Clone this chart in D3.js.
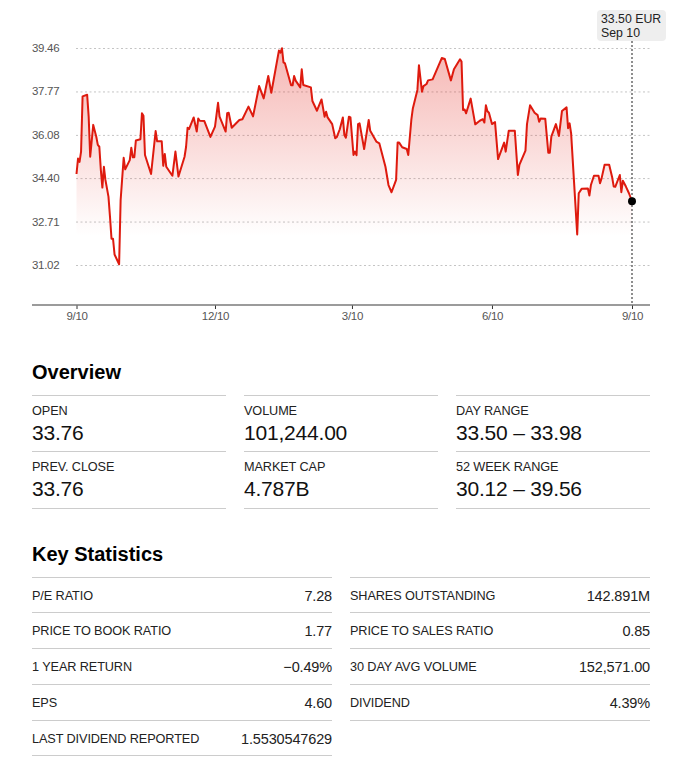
<!DOCTYPE html>
<html><head><meta charset="utf-8">
<script src="https://cdn.jsdelivr.net/npm/d3@7/dist/d3.min.js"></script>
<style>
html,body{margin:0;padding:0;background:#fff}
svg{display:block}
text{font-family:"Liberation Sans",Arial,sans-serif}
</style></head><body><div id="chart"></div>
<script>
const startDate = "2022-09-10";
const dayOffsets = [0,1,2,3,4,7,8,9,11,13,14,15,16,17,18,19,21,22,23,24,25,28,29,31,32,35,36,37,38,39,42,43,44,45,49,52,53,56,57,58,59,63,65,67,71,72,73,74,77,79,80,81,84,88,91,93,94,98,99,100,102,107,109,113,116,120,123,126,128,133,134,135,136,137,141,142,143,144,147,148,149,154,155,158,161,163,164,165,168,170,171,173,175,176,177,179,180,182,183,184,185,186,189,192,193,197,199,203,205,207,210,211,212,214,217,218,220,221,224,225,227,228,230,231,234,240,242,246,248,252,253,254,255,256,259,262,265,267,268,269,270,271,273,275,277,281,282,284,288,290,291,295,296,298,301,303,304,305,308,310,311,312,315,317,319,322,323,324,325,329,330,332,336,337,338,340,343,344,345,347,350,352,353,354,357,358,359,361,363,365];
const prices = [34.56,35.16,35.03,35.43,37.58,37.64,36.79,35.23,36.47,36.01,35.69,35.62,34.71,34.03,34.84,34.33,33.68,32.90,32.04,32.04,31.43,31.05,33.55,35.19,34.74,35.10,35.58,35.21,35.21,35.86,35.91,36.92,36.82,35.30,34.56,36.23,35.83,35.83,34.88,35.34,34.84,34.49,35.43,34.46,35.23,35.62,36.36,36.31,36.76,36.21,36.72,36.63,36.62,36.00,36.40,37.33,36.79,36.21,36.92,36.94,36.36,36.66,36.69,37.18,36.80,37.98,37.50,38.37,37.72,39.36,39.28,39.45,38.90,38.86,38.01,38.01,38.37,38.19,37.93,38.63,38.02,37.93,37.40,37.02,37.46,36.79,36.98,36.76,36.50,35.95,35.99,36.30,36.76,36.08,35.97,36.79,36.76,35.30,35.43,35.29,36.50,36.53,35.53,36.66,36.24,35.82,35.75,34.84,34.13,33.85,34.33,35.78,35.78,35.60,35.53,35.30,36.66,37.11,37.83,38.79,37.76,37.98,38.06,38.20,38.24,39.07,39.03,38.20,38.63,39.02,38.93,37.05,37.07,36.92,37.49,36.49,36.63,36.69,36.56,37.23,37.00,36.94,36.50,36.58,35.14,35.78,35.43,36.24,36.24,34.52,34.91,35.47,36.50,37.23,36.94,36.85,36.59,36.72,36.71,35.39,35.39,36.01,36.50,36.04,37.01,37.15,36.34,36.53,36.14,32.21,33.81,33.99,34.00,33.72,34.13,34.49,34.49,34.20,34.39,34.92,34.92,34.42,34.07,34.06,34.52,33.85,34.30,34.07,33.81,33.50];
const yTickValues = [31.02,32.71,34.40,36.08,37.77,39.46];
const xTickDates = ["2022-09-10","2022-12-10","2023-03-10","2023-06-10","2023-09-10"];
const tooltipLines = ["33.50 EUR","Sep 10"];
const overviewLabels = ["OPEN","VOLUME","DAY RANGE","PREV. CLOSE","MARKET CAP","52 WEEK RANGE"];
const overviewValues = ["33.76","101,244.00","33.50 – 33.98","33.76","4.787B","30.12 – 39.56"];
const statsLeftLabels = ["P/E RATIO","PRICE TO BOOK RATIO","1 YEAR RETURN","EPS","LAST DIVIDEND REPORTED"];
const statsLeftValues = ["7.28","1.77","−0.49%","4.60","1.5530547629"];
const statsRightLabels = ["SHARES OUTSTANDING","PRICE TO SALES RATIO","30 DAY AVG VOLUME","DIVIDEND"];
const statsRightValues = ["142.891M","0.85","152,571.00","4.39%"];

const W=699,H=762;
const parse=d3.utcParse("%Y-%m-%d");
const start=parse(startDate);
const data=dayOffsets.map((d,i)=>({date:d3.utcDay.offset(start,d),price:prices[i]}));
const x=d3.scaleUtc().domain([parse(xTickDates[0]),parse(xTickDates[4])]).range([76.5,632]);
const y=d3.scaleLinear().domain([31.02,39.46]).range([265,48]);
const axisY=305;

const svg=d3.select("#chart").append("svg").attr("width",W).attr("height",H);
const grad=svg.append("defs").append("linearGradient").attr("id","fade")
  .attr("gradientUnits","userSpaceOnUse").attr("x1",0).attr("x2",0).attr("y1",y(39.46)).attr("y2",236);
grad.append("stop").attr("offset",0).attr("stop-color","#e2231a").attr("stop-opacity",0.33);
grad.append("stop").attr("offset",1).attr("stop-color","#e2231a").attr("stop-opacity",0);

// gridlines + y labels
const yAxis=svg.append("g").attr("transform","translate(76,0)")
  .call(d3.axisLeft(y).tickValues(yTickValues).tickFormat(d3.format(".2f")).tickSize(-574).tickPadding(0));
yAxis.select(".domain").remove();
yAxis.selectAll("line").attr("stroke","#c4c4c4").attr("stroke-dasharray","2,2.5").attr("stroke-width",1);
yAxis.selectAll("text").attr("text-anchor","start").attr("x",-44).attr("dy","0.3em")
  .attr("fill","#555").attr("font-size",11.5).attr("letter-spacing",-0.3);

svg.append("path").datum(data).attr("fill","url(#fade)")
  .attr("d",d3.area().x(d=>x(d.date)).y0(axisY).y1(d=>y(d.price)));
svg.append("path").datum(data).attr("fill","none").attr("stroke","#de1a0e").attr("stroke-width",2)
  .attr("stroke-linejoin","round")
  .attr("d",d3.line().x(d=>x(d.date)).y(d=>y(d.price)));

// x axis
const xAxis=svg.append("g").attr("transform",`translate(0,${axisY})`)
  .call(d3.axisBottom(x).tickValues(xTickDates.map(parse)).tickFormat(d3.utcFormat("%-m/%-d")).tickSize(4).tickPadding(3));
xAxis.select(".domain").remove();
xAxis.selectAll("line").attr("stroke","#333");
xAxis.selectAll("text").attr("fill","#555").attr("font-size",11.5).attr("letter-spacing",-0.3);
svg.append("line").attr("x1",32).attr("x2",650).attr("y1",axisY).attr("y2",axisY).attr("stroke","#7a7a7a").attr("stroke-width",1.6);

// marker + tooltip
const last=data[data.length-1];
svg.append("line").attr("x1",x(last.date)).attr("x2",x(last.date)).attr("y1",41).attr("y2",axisY)
  .attr("stroke","#444").attr("stroke-width",1.2).attr("stroke-dasharray","2,2");
svg.append("circle").attr("cx",x(last.date)).attr("cy",y(last.price)).attr("r",4).attr("fill","#000");
svg.append("rect").attr("x",597).attr("y",10).attr("width",69).attr("height",31).attr("rx",4).attr("fill","#eeeeee");
svg.selectAll(".tip").data(tooltipLines).join("text").attr("class","tip").attr("x",601)
  .attr("y",(d,i)=>23+i*14).attr("font-size",12.3).attr("fill","#222").text(d=>d);

function heading(t,yy){svg.append("text").attr("x",32).attr("y",yy).attr("font-size",20).attr("font-weight",700).attr("fill","#000").text(t);}
const rule=(x1,x2,yy)=>svg.append("line").attr("x1",x1).attr("x2",x2).attr("y1",yy).attr("y2",yy).attr("stroke","#cccccc").attr("stroke-width",1);

// overview
heading("Overview",379);
const ovX=[32,244,456];
overviewLabels.forEach((lab,i)=>{
  const c=i%3,r=Math.floor(i/3),ox=ovX[c],oy=395.5+r*56;
  rule(ox,ox+194,oy);
  svg.append("text").attr("x",ox).attr("y",oy+19.5).attr("font-size",12.7).attr("fill","#222").attr("letter-spacing",-0.1).text(lab);
  svg.append("text").attr("x",ox).attr("y",oy+44).attr("font-size",21).attr("fill","#111").attr("letter-spacing",-0.2).text(overviewValues[i]);
  if(r===1) rule(ox,ox+194,508.5);
});

// key statistics
heading("Key Statistics",561);
function statCol(labs,vals,x0,x1){
  labs.forEach((lab,i)=>{
    const ly=577+i*35.75;
    rule(x0,x1,Math.floor(ly)+0.5);
    svg.append("text").attr("x",x0).attr("y",ly+22.5).attr("font-size",12.7).attr("fill","#222").attr("letter-spacing",-0.1).text(lab);
    svg.append("text").attr("x",x1).attr("y",ly+23.5).attr("text-anchor","end").attr("font-size",14.5).attr("fill","#222").attr("letter-spacing",-0.15).text(vals[i]);
    if(i===labs.length-1) rule(x0,x1,Math.floor(ly+35.75)+0.5);
  });
}
statCol(statsLeftLabels,statsLeftValues,32,332);
statCol(statsRightLabels,statsRightValues,350,650);
</script></body></html>
